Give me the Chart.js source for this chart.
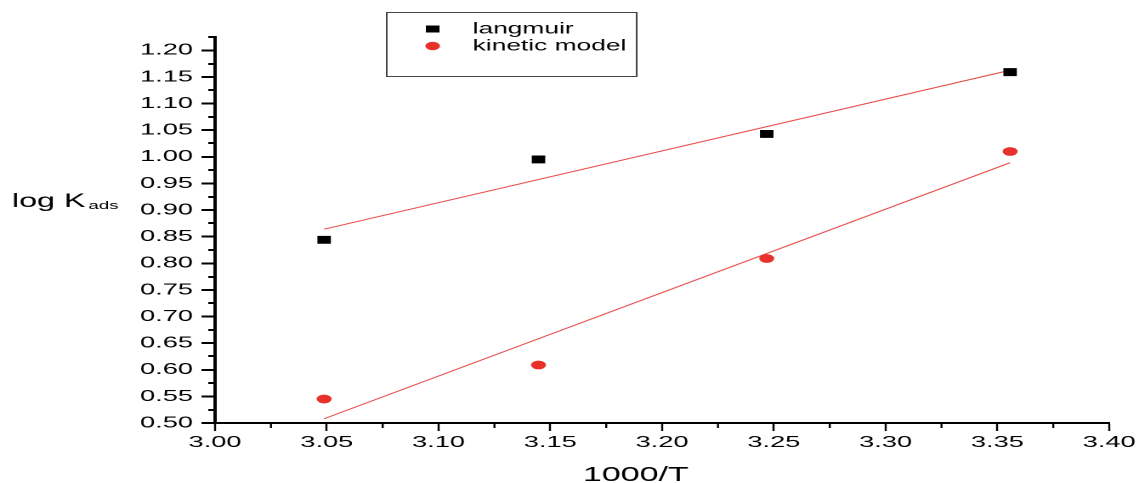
<!DOCTYPE html>
<html>
<head>
<meta charset="utf-8">
<script src="https://cdn.jsdelivr.net/npm/chart.js@4.4.0/dist/chart.umd.min.js"></script>
<style>
  html, body { margin: 0; padding: 0; background: #fff; overflow: hidden; }
  /* the reference is a horizontally stretched plot, so draw narrow and stretch */
  #wrap { width: 670px; height: 483px; transform: scaleX(1.7); transform-origin: 0 0; }
</style>
</head>
<body>
<div id="wrap"><canvas id="chart" width="670" height="483"></canvas></div>
<script>
// 1000/T values
const tempX = [3.0488, 3.1447, 3.2468, 3.3557];

// log Kads per model
const langmuirY = [0.844, 0.995, 1.043, 1.159];
const kineticY = [0.545, 0.609, 0.809, 1.010];

// fitted lines, read at the two end points
const fitX = [3.0488, 3.3557];
const langmuirFitY = [0.864, 1.1625];
const kineticFitY = [0.508, 0.989];

const xTickValues = [3.00, 3.05, 3.10, 3.15, 3.20, 3.25, 3.30, 3.35, 3.40];
const yTickValues = [0.50, 0.55, 0.60, 0.65, 0.70, 0.75, 0.80, 0.85, 0.90, 0.95, 1.00, 1.05, 1.10, 1.15, 1.20];

const seriesLabels = ['langmuir', 'kinetic model'];

const FONT = '"Liberation Sans", Arial, sans-serif';
const RED = '#e8312b';
const FIT_RED = '#e64a45';

const toPoints = (xs, ys) => xs.map((x, i) => ({ x, y: ys[i] }));

// minor ticks + axis titles + boxed legend
const extrasPlugin = {
    id: 'extras',
    afterDraw(chart) {
        const { ctx, chartArea, scales } = chart;
        const xs = scales.x, ys = scales.y;
        ctx.save();
        ctx.strokeStyle = '#000';

        // minor ticks on y
        ctx.lineWidth = 2;
        yTickValues.map(v => v + 0.025).filter(v => v <= ys.max + 1e-9).forEach(v => {
            const py = Math.round(ys.getPixelForValue(v));
            ctx.beginPath();
            ctx.moveTo(chartArea.left - 4, py);
            ctx.lineTo(chartArea.left, py);
            ctx.stroke();
        });
        // minor ticks on x
        ctx.lineWidth = 1.2;
        xTickValues.map(v => v + 0.025).filter(v => v < xs.max).forEach(v => {
            const px = xs.getPixelForValue(v);
            ctx.beginPath();
            ctx.moveTo(px, chartArea.bottom);
            ctx.lineTo(px, chartArea.bottom + 5);
            ctx.stroke();
        });

        // axis titles
        ctx.fillStyle = '#000';
        ctx.textBaseline = 'alphabetic';
        ctx.textAlign = 'left';
        ctx.font = '19px ' + FONT;
        ctx.fillText('log K', 7, 207);
        ctx.font = '11px ' + FONT;
        ctx.fillText('ads', 52, 209);

        ctx.textAlign = 'center';
        ctx.font = '20px ' + FONT;
        ctx.fillText('1000/T', 374, 481);

        // legend box
        ctx.strokeStyle = '#444';
        ctx.lineWidth = 1;
        ctx.strokeRect(227.5, 12.5, 147, 64);
        const marks = chart.data.datasets.filter(d => !d.isFit);
        marks.forEach((d, i) => {
            const cy = 29 + i * 17;
            ctx.fillStyle = d.backgroundColor;
            if (d.pointStyle === 'rect') {
                ctx.fillRect(250.5, cy - 3.5, 8, 7);
            } else {
                ctx.beginPath();
                ctx.arc(254.5, cy, 4.3, 0, Math.PI * 2);
                ctx.fill();
            }
            ctx.fillStyle = '#000';
            ctx.textAlign = 'left';
            ctx.font = '15.5px ' + FONT;
            ctx.fillText(d.label, 278, cy + 4.5);
        });
        ctx.restore();
    }
};

new Chart(document.getElementById('chart'), {
    type: 'scatter',
    data: {
        datasets: [
            {
                label: seriesLabels[0],
                data: toPoints(tempX, langmuirY),
                pointStyle: 'rect',
                pointRadius: 5.6,
                backgroundColor: '#000',
                borderColor: '#000',
                borderWidth: 0
            },
            {
                label: seriesLabels[1],
                data: toPoints(tempX, kineticY),
                pointStyle: 'circle',
                pointRadius: 4.4,
                backgroundColor: RED,
                borderColor: RED,
                borderWidth: 0
            },
            {
                label: 'langmuir fit',
                isFit: true,
                data: toPoints(fitX, langmuirFitY),
                showLine: true,
                pointRadius: 0,
                borderColor: FIT_RED,
                borderWidth: 1
            },
            {
                label: 'kinetic fit',
                isFit: true,
                data: toPoints(fitX, kineticFitY),
                showLine: true,
                pointRadius: 0,
                borderColor: FIT_RED,
                borderWidth: 1
            }
        ]
    },
    options: {
        responsive: false,
        devicePixelRatio: 2,
        animation: false,
        layout: { padding: { top: 37, right: 16.5, bottom: 0, left: 0 } },
        plugins: {
            legend: { display: false },
            tooltip: { enabled: false }
        },
        scales: {
            x: {
                type: 'linear',
                min: 3.0,
                max: 3.4,
                afterBuildTicks: s => { s.ticks = xTickValues.map(v => ({ value: v })); },
                afterFit: s => { s.height = 60; },
                border: { display: true, color: '#000', width: 2 },
                grid: {
                    drawOnChartArea: false,
                    drawTicks: true,
                    tickLength: 8,
                    tickColor: '#000',
                    tickWidth: 1.2
                },
                ticks: {
                    color: '#000',
                    padding: 2,
                    maxRotation: 0,
                    font: { family: FONT, size: 16 },
                    callback: v => Number(v).toFixed(2)
                }
            },
            y: {
                type: 'linear',
                min: 0.5,
                max: 1.225,
                afterBuildTicks: s => { s.ticks = yTickValues.map(v => ({ value: v })); },
                afterFit: s => { s.width = 126.5; },
                border: { display: true, color: '#000', width: 2 },
                grid: {
                    drawOnChartArea: false,
                    drawTicks: true,
                    tickLength: 8,
                    tickColor: '#000',
                    tickWidth: 2
                },
                ticks: {
                    color: '#000',
                    padding: 5,
                    font: { family: FONT, size: 16 },
                    callback: v => Number(v).toFixed(2)
                }
            }
        }
    },
    plugins: [extrasPlugin]
});
</script>
</body>
</html>
